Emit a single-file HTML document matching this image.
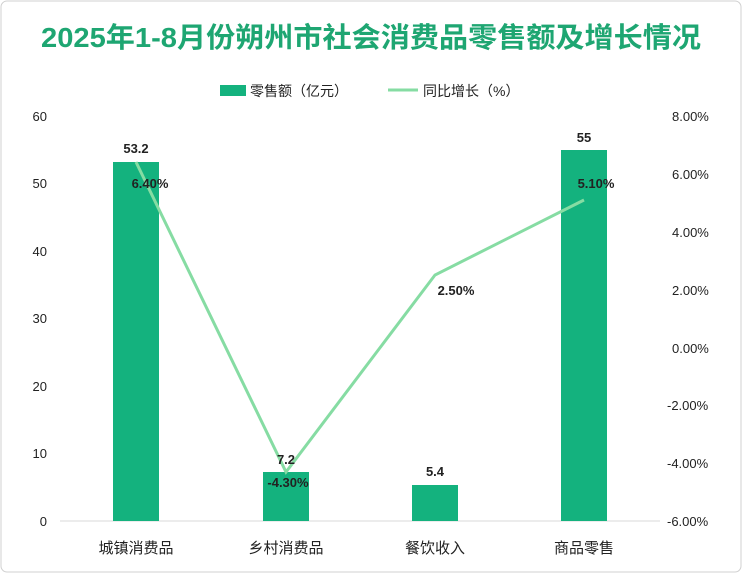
<!DOCTYPE html>
<html><head><meta charset="utf-8"><style>
body{margin:0;background:#fff;}
svg text{font-family:"Liberation Sans","Noto Sans CJK SC",sans-serif;}
</style></head><body>
<svg width="742" height="573" xmlns="http://www.w3.org/2000/svg">
<rect x="1" y="1" width="740" height="571" rx="6" fill="#fff" stroke="#d0d0d0"/>
<text x="371" y="47" text-anchor="middle" font-size="28" font-weight="bold" fill="#1ea672" textLength="660" lengthAdjust="spacingAndGlyphs">2025年1-8月份朔州市社会消费品零售额及增长情况</text>
<rect x="220" y="85" width="26" height="11" fill="#14b27e"/>
<text x="250" y="96" font-size="14" fill="#222">零售额（亿元）</text>
<line x1="388" y1="90" x2="418" y2="90" stroke="#86dca3" stroke-width="3"/>
<text x="423" y="96" font-size="14" fill="#222">同比增长（%）</text>
<g font-size="13" fill="#222" text-anchor="end">
<text x="47" y="121">60</text><text x="47" y="188">50</text><text x="47" y="256">40</text>
<text x="47" y="323">30</text><text x="47" y="391">20</text><text x="47" y="458">10</text><text x="47" y="526">0</text>
</g>
<g font-size="13" fill="#222" text-anchor="start">
<text x="672" y="121">8.00%</text><text x="672" y="179">6.00%</text><text x="672" y="237">4.00%</text>
<text x="672" y="295">2.00%</text><text x="672" y="353">0.00%</text><text x="667" y="410">-2.00%</text>
<text x="667" y="468">-4.00%</text><text x="667" y="526">-6.00%</text>
</g>
<line x1="60" y1="521" x2="660" y2="521" stroke="#d9d9d9"/>
<g fill="#14b27e">
<rect x="113" y="162" width="46" height="359"/>
<rect x="263" y="472" width="46" height="49"/>
<rect x="412" y="485" width="46" height="36"/>
<rect x="561" y="150" width="46" height="371"/>
</g>
<polyline points="136,162 286,472 435,275 584,200" fill="none" stroke="#86dca3" stroke-width="3"/>
<g font-size="13" fill="#222" text-anchor="middle" font-weight="bold">
<text x="136" y="153">53.2</text><text x="286" y="464">7.2</text><text x="435" y="476">5.4</text><text x="584" y="142">55</text>
<text x="150" y="188">6.40%</text><text x="288" y="487">-4.30%</text><text x="456" y="295">2.50%</text><text x="596" y="188">5.10%</text>
</g>
<g font-size="15" fill="#222" text-anchor="middle">
<text x="136" y="553">城镇消费品</text><text x="286" y="553">乡村消费品</text><text x="435" y="553">餐饮收入</text><text x="584" y="553">商品零售</text>
</g>
</svg>
</body></html>
